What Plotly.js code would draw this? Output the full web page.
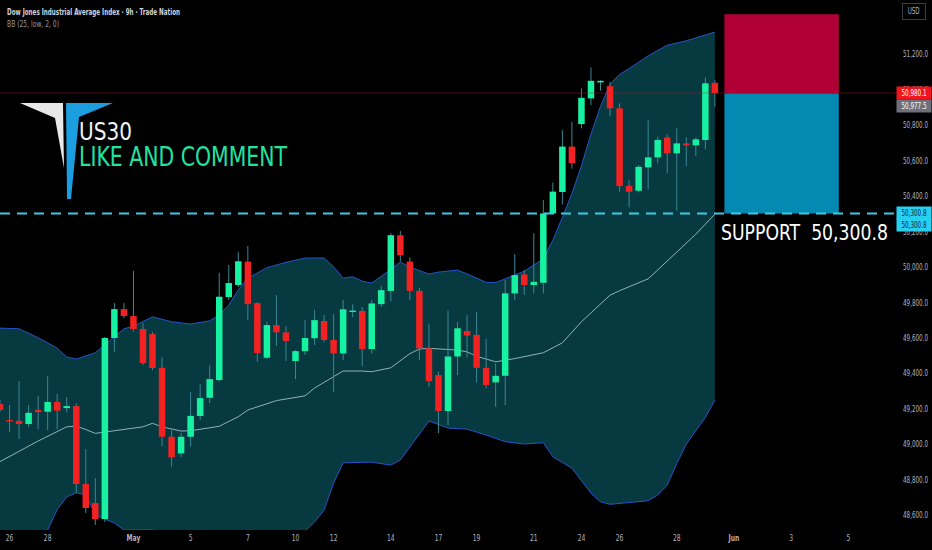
<!DOCTYPE html>
<html><head><meta charset="utf-8">
<script src="https://cdn.plot.ly/plotly-3.0.1.min.js"></script>
<style>html,body{margin:0;padding:0;background:#000;}#chart{width:932px;height:550px;}</style>
</head><body><div id="chart"></div>
<script>
// ---- candle data (9h bars, index = bar number) ----
const openP  = [49225,49135,49131,49113,49192,49182,49237,49203,49214,48774,48667,48577,49598,49761,49722,49649,49620,49430,49041,48947,49041,49158,49261,49361,49829,49897,50029,49795,49487,49671,49630,49468,49524,49597,49694,49587,49511,49746,49751,49536,49789,49864,50178,50029,49864,49540,49389,49186,49494,49638,49616,49430,49348,49385,49850,49957,49897,49910,50301,50422,50678,50805,50950,51040,51019,50894,50457,50429,50561,50617,50730,50640,50696,50685,50715,51038];
const highP  = [49248,49220,49355,49220,49271,49383,49282,49265,49231,48972,48808,49604,49795,49795,49977,49683,49631,49489,49079,49062,49293,49338,49445,49966,50010,50082,50117,49801,49688,49840,49666,49530,49699,49756,49728,49733,49812,49788,49773,49812,49892,50190,50202,50052,49881,49679,49408,49754,49688,49727,49746,49593,49456,49925,50072,49982,50189,50377,50475,50770,50818,51006,51125,51052,51043,50922,50489,50574,50826,50734,50749,50781,50730,50730,51069,51053];
const lowP   = [49180,49067,49028,49096,49084,49079,49084,49180,48723,48611,48543,48560,49519,49710,49634,49446,49417,48988,48872,48926,48985,49135,49231,49351,49812,49886,49699,49464,49480,49553,49468,49366,49502,49559,49575,49295,49474,49716,49440,49510,49774,49806,50029,49812,49474,49323,49062,49107,49389,49487,49346,49314,49210,49220,49812,49840,49850,49850,50296,50352,50554,50781,50912,50993,50850,50423,50335,50421,50437,50584,50527,50316,50568,50625,50662,50903];
const closeP = [49192,49128,49113,49176,49180,49237,49188,49214,48774,48639,48577,49598,49761,49722,49649,49457,49429,49041,48925,49041,49159,49259,49366,49831,49908,50031,49789,49513,49671,49630,49581,49524,49598,49699,49587,49511,49760,49752,49536,49793,49868,50178,50065,49864,49540,49355,49186,49494,49653,49612,49430,49333,49385,49850,49953,49897,49915,50300.8,50424,50678,50584,50953,51049,51049,50894,50455,50423,50564,50617,50715,50640,50696,50685,50719,51035,50980.1];

// ---- Bollinger Bands BB(25, low, 2, 0) ----
const upperIdx = [0,2,4,6,7,8,10,11,12,13,14,16,18,20,22,23,24,25,26,28,30,32,34,35,36,37,38,39,41,42,43,45,46,48,49,51,52,55,57,58,59,60,61,62,63,64,65,66,68,70,72,74,75];
const upperVal = [49654,49650,49600,49541,49491,49479,49515,49560,49610,49650,49665,49718,49690,49677,49695,49728,49784,49870,49935,49995,50025,50049,50050,50000,49936,49944,49919,49908,49985,50027,49998,49959,49970,49981,49960,49912,49911,49975,50045,50150,50279,50413,50570,50750,50905,51030,51085,51118,51190,51250,51275,51305,51324];
const midIdx = [0,2,4,7,8,9,10,12,15,16,17,19,20,23,25,26,29,32,33,35,36,38,39,41,43,44,45,48,49,50,52,54,57,59,61,62,64,65,68,69,71,73,75];
const midVal = [48901,48960,49017,49097,49101,49082,49060,49075,49097,49117,49097,49073,49075,49100,49154,49192,49245,49272,49316,49380,49412,49412,49408,49430,49510,49536,49540,49530,49520,49495,49464,49482,49515,49571,49690,49740,49840,49865,49932,49982,50084,50184,50297];
const lowIdx = [0,2,4,5,6,7,8,9,10,12,13,16,18,20,22,24,26,28,30,32,33,34,35,36,39,41,42,43,45,47,49,51,53,55,57,58,60,62,63,64,66,68,69,70,71,72,74,75];
const lowVal = [48150,48270,48430,48515,48630,48701,48725,48712,48600,48554,48515,48516,48480,48473,48495,48476,48449,48475,48485,48510,48560,48627,48780,48894,48898,48881,48910,48985,49130,49090,49084,49051,49013,49000,49007,48928,48864,48723,48674,48660,48669,48680,48712,48768,48890,49000,49150,49248];

// ---- axis ticks ----
const dateTickIdx  = [1,5,14,20,26,31,35,41,46,50,56,61,65,71,77,83,89];
const dateTickText = ['26','28','<b>May</b>','5','7','10','12','14','17','19','21','24','26','28','<b>Jun</b>','3','5'];
const priceTicks = [48600,48800,49000,49200,49400,49600,49800,50000,50200,50400,50600,50800,51000,51200];

// ---- levels / position tool ----
const lastPrice = 50980.1;
const entryPrice = 50977.5;
const supportPrice = 50300.8;
const stopPrice = 51425;
const posStart = 76, posEnd = 88;

// ---------------------------------------------------------------
const FONT = "'Liberation Sans Narrow','DejaVu Sans Condensed','Liberation Sans',sans-serif";
const GREEN = '#17f2a2', RED = '#f22222';
const PW = 896, PH = 530;
const px = v => v / PW, py = v => 1 - v / PH;

const idx = openP.map((_, i) => i);
const wickX = [], wickY = [];
idx.forEach(i => { wickX.push(i, i, null); wickY.push(lowP[i], highP[i], null); });

const minBody = 8;
function bodies(up) {
  const bx = [], by = [];
  idx.forEach(i => {
    const isUp = closeP[i] >= openP[i];
    if (isUp !== up) return;
    let lo = Math.min(openP[i], closeP[i]), hi = Math.max(openP[i], closeP[i]);
    if (hi - lo < minBody) { const m = (hi + lo) / 2; lo = m - minBody / 2; hi = m + minBody / 2; }
    bx.push(i, i, null); by.push(lo, hi, null);
  });
  return {bx, by};
}
const upB = bodies(true), dnB = bodies(false);

const traces = [
  {type:'scatter', mode:'lines', x: lowIdx, y: lowVal, line:{color:'#2753c9', width:1}, hoverinfo:'skip'},
  {type:'scatter', mode:'lines', x: upperIdx, y: upperVal, fill:'tonexty', fillcolor:'#063a40', line:{color:'#2753c9', width:1}, hoverinfo:'skip'},
  {type:'scatter', mode:'lines', x: midIdx, y: midVal, line:{color:'#8fb2b8', width:1}, hoverinfo:'skip'},
  {type:'scatter', mode:'lines', x: wickX, y: wickY, line:{color:'#3b8795', width:1}, hoverinfo:'skip'},
  {type:'scatter', mode:'lines', x: upB.bx, y: upB.by, line:{color:GREEN, width:6.5}, hoverinfo:'skip'},
  {type:'scatter', mode:'lines', x: dnB.bx, y: dnB.by, line:{color:RED, width:6.5}, hoverinfo:'skip'}
];

function pathFrom(pts) {
  return 'M ' + pts.map(p => px(p[0]).toFixed(4) + ' ' + py(p[1]).toFixed(4)).join(' L ') + ' Z';
}
const fmt = v => v.toLocaleString('en-US', {minimumFractionDigits:1, maximumFractionDigits:1});

const shapes = [
  {type:'path', xref:'paper', yref:'paper', path: pathFrom([[20,103],[63,103],[64,168],[55,118]]), fillcolor:'#e8e8e8', line:{width:0}},
  {type:'path', xref:'paper', yref:'paper', path: pathFrom([[66,103],[113,103],[79,117],[71,199],[67,199]]), fillcolor:'#1a9ee0', line:{width:0}},
  {type:'line', xref:'paper', x0:0, x1:1, yref:'y', y0:lastPrice, y1:lastPrice, line:{color:'rgba(200,30,40,0.4)', width:1}},
  {type:'rect', xref:'x', yref:'y', x0:posStart, x1:posEnd, y0:entryPrice, y1:stopPrice, fillcolor:'#b10036', line:{width:0}},
  {type:'rect', xref:'x', yref:'y', x0:posStart, x1:posEnd, y0:supportPrice, y1:entryPrice, fillcolor:'#0389b2', line:{width:0}},
  {type:'line', xref:'paper', x0:0, x1:1.005, yref:'y', y0:supportPrice, y1:supportPrice, line:{color:'#3dc9e6', width:2, dash:'10px,7px'}}
];

function priceLabel(v, text, bg, fg, shift) {
  return {xref:'paper', x:1, xanchor:'left', yref:'y', y:v, yanchor:'middle', yshift:shift||0, text:text,
    showarrow:false, bgcolor:bg, borderpad:1, width:32, height:10, align:'center',
    font:{family:FONT, size:9, color:fg}};
}

// annotations, each with the pixel width its text occupies in the reference (null = leave as is)
const annotations = [
  {xref:'paper', yref:'paper', x:px(5), y:py(12), xanchor:'left', yanchor:'middle', showarrow:false,
   text:'<b>Dow Jones Industrial Average Index · 9h · Trade Nation</b>', font:{family:FONT, size:9.5, color:'#d1d4dc'}},
  {xref:'paper', yref:'paper', x:px(5), y:py(24), xanchor:'left', yanchor:'middle', showarrow:false,
   text:'BB (25, low, 2, 0)', font:{family:FONT, size:9.5, color:'#9598a1'}},
  {xref:'paper', yref:'paper', x:px(77), y:py(131), xanchor:'left', yanchor:'middle', showarrow:false,
   text:'US30', font:{family:FONT, size:25, color:'#f2f2f2'}},
  {xref:'paper', yref:'paper', x:px(77), y:py(157), xanchor:'left', yanchor:'middle', showarrow:false,
   text:'LIKE AND COMMENT', font:{family:FONT, size:26, color:'#22e3a0'}},
  {xref:'paper', yref:'paper', x:px(719), y:py(232), xanchor:'left', yanchor:'middle', showarrow:false,
   text:'SUPPORT\u00a0\u00a0' + fmt(supportPrice), font:{family:FONT, size:22, color:'#ffffff'}},
  {xref:'paper', yref:'paper', x:px(914), y:py(12), xanchor:'center', yanchor:'middle', showarrow:false,
   text:'USD', bgcolor:'#000', bordercolor:'#3a3e48', borderwidth:1, borderpad:3, font:{family:FONT, size:8, color:'#b2b5be'}},
  priceLabel(lastPrice, fmt(lastPrice), '#f0141e', '#ffffff', 0),
  priceLabel(entryPrice, fmt(entryPrice), '#6d707a', '#ffffff', -12),
  priceLabel(supportPrice, fmt(supportPrice), '#28d0f0', '#0a2540', 0),
  priceLabel(supportPrice, fmt(supportPrice), '#28d0f0', '#0a2540', -12)
];
const annFit = [[173,true],[52,true],[53,true],[208,true],[167,true],[12,false],[25,false],[25,false],[25,false],[25,false]];

const layout = {
  width:932, height:550, margin:{l:0, r:36, t:0, b:20},
  paper_bgcolor:'#000', plot_bgcolor:'#000', showlegend:false,
  xaxis:{range:[0,94], tickvals:dateTickIdx, ticktext:dateTickText, showgrid:false, zeroline:false, showline:false,
         ticks:'', tickfont:{family:FONT, size:9.5, color:'#b2b5be'}, fixedrange:true},
  yaxis:{range:[48515,51505], side:'right', tickvals:priceTicks, tickformat:',.1f', showgrid:false, zeroline:false,
         showline:false, ticks:'', ticklabelstandoff:6, tickfont:{family:FONT, size:9.5, color:'#b2b5be'}, fixedrange:true},
  shapes:shapes, annotations:annotations
};

// horizontally condense a text to a target width (the reference uses a narrow face)
function squeeze(el, target, keepLeft) {
  const w = el.getComputedTextLength();
  if (!w || w <= target) return;
  if (keepLeft) {
    const a = el.getAttribute('text-anchor') || 'start';
    const x = parseFloat(el.getAttribute('x') || '0');
    const left = a === 'middle' ? x - w / 2 : (a === 'end' ? x - w : x);
    el.setAttribute('text-anchor', 'start');
    el.setAttribute('x', left);
  }
  el.setAttribute('textLength', target);
  el.setAttribute('lengthAdjust', 'spacingAndGlyphs');
}

Plotly.newPlot('chart', traces, layout, {displayModeBar:false, staticPlot:true}).then(gd => {
  gd.querySelectorAll('.ytick text').forEach(t => squeeze(t, 25, true));
  gd.querySelectorAll('.xtick text').forEach(t => squeeze(t, t.getComputedTextLength() * 0.7, false));
  gd.querySelectorAll('g.annotation').forEach(g => {
    const i = parseInt(g.getAttribute('data-index'), 10);
    const t = g.querySelector('.annotation-text');
    if (t && annFit[i]) squeeze(t, annFit[i][0], annFit[i][1]);
  });
});
</script>
</body></html>
